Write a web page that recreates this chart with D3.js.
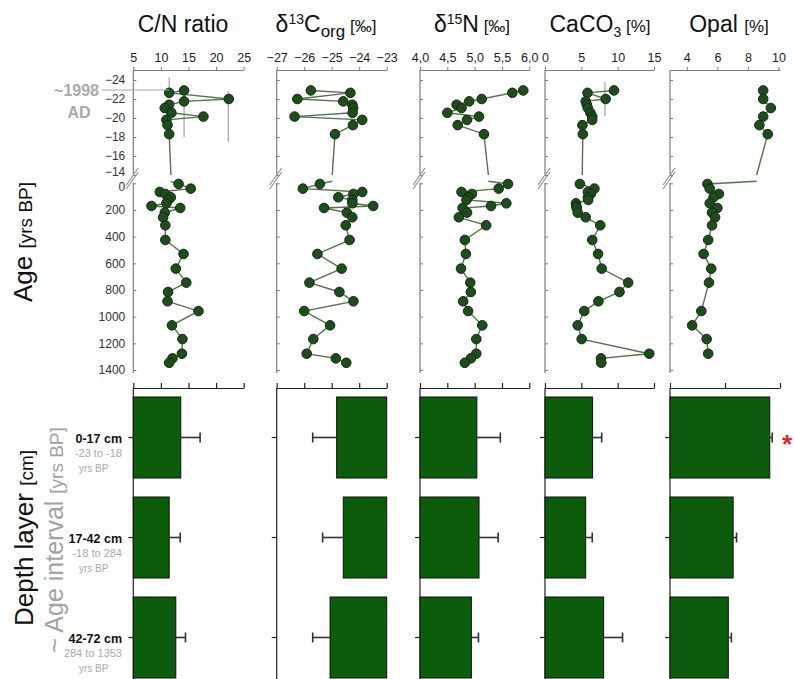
<!DOCTYPE html>
<html>
<head>
<meta charset="utf-8">
<script src="https://cdn.jsdelivr.net/npm/d3@7"></script>
<style>
  body { margin: 0; background: #fff; }
  svg { display: block; }
  text { font-family: "Liberation Sans", Arial, sans-serif; }
</style>
</head>
<body>
<svg id="chart" width="794" height="679"></svg>
<script>
// ---- Sample ages (yrs BP): upper (recent) segment and lower segment of the broken axis
const topAge = [-22.9, -22.65, -22.0, -21.75, -21.4, -21.05, -20.55, -20.15, -19.8, -19.25, -18.3];
const lowAge = [5, 40, 65, 80, 105, 125, 150, 170, 185, 220, 255, 315, 425, 530, 640, 745, 815, 885, 958, 1065, 1168, 1278, 1313, 1346];

// ---- Down-core profiles
const cnTop = [14.2, 11.5, 22.3, 14.2, 11.5, 10.7, 11.9, 17.7, 11.0, 11.2, 11.5];
const cnLow = [13.2, 15.4, 9.8, 10.8, 11.8, 11.3, 11.0, 8.3, 13.5, 10.7, 10.4, 10.8, 10.8, 14.1, 12.7, 14.6, 11.3, 11.2, 16.8, 12.0, 13.9, 13.8, 12.1, 11.5];

const d13Top = [-25.76, -24.32, -26.25, -24.58, -24.25, -24.22, -24.24, -26.35, -23.89, -24.23, -24.88];
const d13Low = [-25.43, -26.05, -23.89, -24.21, -24.76, -24.25, -24.25, -23.49, -25.28, -24.45, -24.25, -24.49, -24.35, -25.52, -24.64, -25.81, -24.72, -24.21, -26.0, -25.06, -25.67, -25.91, -24.85, -24.47];

const d15Top = [5.89, 5.69, 5.13, 4.90, 4.67, 4.76, 4.50, 5.08, 4.86, 4.69, 5.17];
const d15Low = [5.61, 5.44, 4.76, 4.95, 4.88, 4.85, 5.58, 5.30, 4.78, 4.86, 4.71, 5.21, 4.82, 4.84, 4.75, 4.92, 4.93, 4.79, 4.88, 5.14, 5.03, 5.03, 4.93, 4.82];

const caTop = [9.5, 5.85, 8.35, 5.6, 5.75, 5.9, 6.25, 6.5, 6.5, 5.15, 5.2];
const caLow = [4.8, 6.8, 5.9, 6.3, 5.9, 5.95, 4.26, 4.3, 4.36, 4.5, 5.6, 7.6, 6.5, 7.3, 7.8, 11.45, 10.25, 7.35, 5.4, 4.5, 5.05, 14.35, 7.7, 7.75];

const opalTop = [9.0, null, 9.0, null, null, 9.5, null, 9.0, null, 8.75, 9.3];
const opalLow = [5.35, 5.5, null, 6.1, 5.75, null, 5.5, null, 6.0, 5.65, 5.85, 5.65, 5.4, 5.1, 5.6, 5.45, null, null, 4.95, 4.35, 5.3, 5.4, null, null];

// ---- Reference lines in the recent segment (value, from age, to age)
const cnGuideVal = [11.5, 14.2, 22.2];
const cnGuideFrom = [-24.3, -22.95, -22.8];
const cnGuideTo = [-22.95, -18.0, -17.5];
const caGuideVal = [8.25];
const caGuideFrom = [-23.8];
const caGuideTo = [-20.2];

// ---- Layer means and standard deviations
const layers = ["0-17 cm", "17-42 cm", "42-72 cm"];
const layerAges = ["-23 to -18", "-18 to 284", "284 to 1353"];
const cnMean = [13.6, 11.5, 12.7];
const cnSD = [3.5, 2.0, 1.75];
const d13Mean = [-24.82, -24.58, -25.06];
const d13SD = [0.87, 0.75, 0.63];
const d15Mean = [5.04, 5.08, 4.94];
const d15SD = [0.43, 0.35, 0.13];
const caMean = [6.55, 5.6, 8.07];
const caSD = [1.25, 0.9, 2.6];
const opalMean = [9.07, 5.74, 5.3];
const opalSD = [0.22, 0.31, 0.28];

// ---- Axis ticks
const topAgeTicks = [-24, -22, -20, -18, -16, -14];
const lowAgeTicks = [0, 200, 400, 600, 800, 1000, 1200, 1400];

const svg = d3.select("#chart");

const yTop = d3.scaleLinear().domain([-25, -14]).range([70.5, 175]);
const yLow = d3.scaleLinear().domain([0, 1400]).range([183.3, 370]);
const yBar = d3.scaleBand().domain(layers).range([387.5, 687.5]).paddingInner(0.19).paddingOuter(0.095);

const comma = d => d3.format(".1f")(d).replace(".", ",");
const FONT = '"Liberation Sans", Arial, sans-serif';

const panels = [
  { x0: 133.3, x1: 243.7, dom: [5, 25], ticks: [5, 10, 15, 20, 25], fmt: d3.format("d"),
    top: cnTop, low: cnLow, mean: cnMean, sd: cnSD,
    barDom: [5, 25], barTicks: [5, 10, 15, 20, 25], base: 5, bx1: 243.7,
    gv: cnGuideVal, gf: cnGuideFrom, gt: cnGuideTo },
  { x0: 276.7, x1: 386.7, dom: [-27, -23], ticks: [-27, -26, -25, -24, -23], fmt: d3.format("d"),
    top: d13Top, low: d13Low, mean: d13Mean, sd: d13SD,
    barDom: [-27, -23], barTicks: [-27, -26, -25, -24, -23], base: -23, bx1: 386.7 },
  { x0: 420, x1: 529.3, dom: [4, 6], ticks: [4, 4.5, 5, 5.5, 6], fmt: comma,
    top: d15Top, low: d15Low, mean: d15Mean, sd: d15SD,
    barDom: [4, 6], barTicks: [4, 4.5, 5, 5.5, 6], base: 4, bx1: 529.3 },
  { x0: 545, x1: 654, dom: [0, 15], ticks: [0, 5, 10, 15], fmt: d3.format("d"),
    top: caTop, low: caLow, mean: caMean, sd: caSD,
    barDom: [0, 15], barTicks: [0, 5, 10, 15], base: 0, bx1: 654,
    gv: caGuideVal, gf: caGuideFrom, gt: caGuideTo },
  { x0: 670, x1: 780, dom: [2.9, 10.1], ticks: [4, 6, 8, 10], fmt: d3.format("d"),
    top: opalTop, low: opalLow, mean: opalMean, sd: opalSD,
    barDom: [0, 10], barTicks: [0, 5, 10], base: 0, bx1: 780 }
];

const axisGray = "#7d7d7d";
const lineCol = "#56734f";
const dotFill = "#1f4c1d";
const dotStroke = "#112d11";
const barFill = "#0b5c0b";

panels.forEach((p, pi) => {
  const x = d3.scaleLinear().domain(p.dom).range([p.x0, p.x1]);
  const g = svg.append("g");

  // top value axis
  const ax = g.append("g").attr("transform", "translate(0,70)")
    .call(d3.axisTop(x).tickValues(p.ticks).tickFormat(p.fmt).tickSize(3).tickSizeOuter(0).tickPadding(5));
  ax.select(".domain").attr("stroke", axisGray);
  ax.selectAll(".tick line").attr("stroke", axisGray);
  ax.selectAll("text").attr("font-size", 12.5).attr("fill", "#222").attr("font-family", FONT);

  // broken age axis
  const yAxTop = g.append("g").attr("transform", `translate(${p.x0},0)`)
    .call(d3.axisLeft(yTop).tickValues(topAgeTicks).tickSizeInner(-3).tickSizeOuter(0).tickPadding(8)
      .tickFormat(pi === 0 ? d3.format("d") : ""));
  const yAxLow = g.append("g").attr("transform", `translate(${p.x0},0)`)
    .call(d3.axisLeft(yLow).tickValues(lowAgeTicks).tickSizeInner(-3).tickSizeOuter(0).tickPadding(8)
      .tickFormat(pi === 0 ? d3.format("d") : ""));
  [yAxTop, yAxLow].forEach(a => {
    a.select(".domain").remove();
    a.selectAll(".tick line").attr("stroke", axisGray);
    a.selectAll("text").attr("font-size", 12).attr("fill", "#333").attr("font-family", FONT);
  });
  // the two labels at the break sit very close; nudge them apart a little
  yAxTop.selectAll("text").filter(d => d === -14).attr("dy", "0.05em");
  yAxLow.selectAll("text").filter(d => d === 0).attr("dy", "0.62em");

  g.append("line").attr("x1", p.x0).attr("x2", p.x0).attr("y1", 70).attr("y2", 174)
    .attr("stroke", axisGray).attr("stroke-width", 1.2);
  g.append("line").attr("x1", p.x0).attr("x2", p.x0).attr("y1", 183).attr("y2", 373)
    .attr("stroke", axisGray).attr("stroke-width", 1.2);
  // break marks
  [0, 4].forEach(o => {
    g.append("line")
      .attr("x1", p.x0 - 7).attr("y1", 185 + o).attr("x2", p.x0 + 5).attr("y2", 168 + o)
      .attr("stroke", "#8a8a8a").attr("stroke-width", 1.1);
  });

  // reference lines
  if (p.gv) {
    p.gv.forEach((v, i) => {
      g.append("line").attr("x1", x(v)).attr("x2", x(v))
        .attr("y1", yTop(p.gf[i])).attr("y2", yTop(p.gt[i]))
        .attr("stroke", "#9a9a9a").attr("stroke-width", 1.1);
    });
  }

  // profile: recent segment, lower segment, and the link across the break
  const tPts = topAge.map((a, i) => ({ a, v: p.top[i] })).filter(d => d.v != null);
  const lPts = lowAge.map((a, i) => ({ a, v: p.low[i] })).filter(d => d.v != null);
  const last = tPts[tPts.length - 1], first = lPts[0];
  const vb = last.v + (first.v - last.v) * ((-14 - last.a) / (first.a - last.a));

  const lineTop = d3.line().x(d => x(d.v)).y(d => yTop(d.a));
  const lineLow = d3.line().x(d => x(d.v)).y(d => yLow(d.a));
  g.append("path").attr("d", lineTop(tPts.concat([{ a: -14, v: vb }])))
    .attr("fill", "none").attr("stroke", lineCol).attr("stroke-width", 1.4);
  g.append("path").attr("d", lineLow([{ a: -15, v: vb }].concat(lPts)))
    .attr("fill", "none").attr("stroke", lineCol).attr("stroke-width", 1.4);

  g.selectAll(".dt").data(tPts).join("circle")
    .attr("cx", d => x(d.v)).attr("cy", d => yTop(d.a)).attr("r", 4.8)
    .attr("fill", dotFill).attr("stroke", dotStroke).attr("stroke-width", 1);
  g.selectAll(".dl").data(lPts).join("circle")
    .attr("cx", d => x(d.v)).attr("cy", d => yLow(d.a)).attr("r", 4.8)
    .attr("fill", dotFill).attr("stroke", dotStroke).attr("stroke-width", 1);

  // ---- layer bars
  const xb = d3.scaleLinear().domain(p.barDom).range([p.x0, p.bx1]);
  const bx = g.append("g").attr("transform", "translate(0,388)")
    .call(d3.axisTop(xb).tickValues(p.barTicks).tickFormat("").tickSize(5).tickSizeOuter(0));
  bx.select(".domain").attr("stroke", "#222").attr("stroke-width", 1.2);
  bx.selectAll(".tick line").attr("stroke", "#222").attr("stroke-width", 1.2);
  g.append("line").attr("x1", p.x0).attr("x2", p.x0).attr("y1", 388).attr("y2", 679)
    .attr("stroke", "#222").attr("stroke-width", 1.2);

  const bars = layers.map((l, i) => ({ l, m: p.mean[i], s: p.sd[i] }));
  g.selectAll(".bar").data(bars).join("rect")
    .attr("x", d => Math.min(xb(p.base), xb(d.m)))
    .attr("width", d => Math.abs(xb(d.m) - xb(p.base)))
    .attr("y", d => yBar(d.l)).attr("height", yBar.bandwidth())
    .attr("fill", barFill).attr("stroke", "#111").attr("stroke-width", 1);

  bars.forEach(d => {
    const cy = yBar(d.l) + yBar.bandwidth() / 2;
    const dir = d.m >= p.base ? 1 : -1;
    const xe = xb(d.m + dir * d.s);
    g.append("line").attr("x1", xb(d.m)).attr("x2", xe).attr("y1", cy).attr("y2", cy)
      .attr("stroke", "#333").attr("stroke-width", 1.6);
    g.append("line").attr("x1", xe).attr("x2", xe).attr("y1", cy - 5).attr("y2", cy + 5)
      .attr("stroke", "#333").attr("stroke-width", 1.6);
    g.append("line").attr("x1", p.x0 - 5).attr("x2", p.x0).attr("y1", cy).attr("y2", cy)
      .attr("stroke", "#222").attr("stroke-width", 1.2);
  });
});

// ---- column headings
function heading(cx, parts) {
  const t = svg.append("text").attr("x", cx).attr("y", 32).attr("text-anchor", "middle").attr("fill", "#111");
  parts.forEach(([s, fs, dy]) => t.append("tspan").attr("font-size", fs).attr("dy", dy || 0).text(s));
}
heading(183, [["C/N ratio", 23]]);
heading(326, [["δ", 23], ["13", 14, -8], ["C", 23, 8], ["org", 17, 5], [" [‰]", 17, -5]]);
heading(472, [["δ", 23], ["15", 14, -8], ["N", 23, 8], [" [‰]", 17]]);
heading(600, [["CaCO", 23], ["3", 14, 5], [" [%]", 17, -5]]);
heading(729, [["Opal ", 23], ["[%]", 17]]);

// ---- rotated axis titles
function vtitle(x, y, parts, fill) {
  const t = svg.append("text").attr("transform", `translate(${x},${y}) rotate(-90)`)
    .attr("text-anchor", "middle").attr("fill", fill);
  parts.forEach(([s, fs]) => t.append("tspan").attr("font-size", fs).text(s));
}
vtitle(32, 242, [["Age ", 26], ["[yrs BP]", 19]], "#111");
vtitle(33, 538, [["Depth layer ", 26], ["[cm]", 19]], "#111");
vtitle(63, 540, [["~ Age interval ", 25], ["[yrs BP]", 19]], "#a3a3a3");

// ---- layer labels
layers.forEach((l, i) => {
  const cy = yBar(l) + yBar.bandwidth() / 2;
  svg.append("text").attr("x", 122).attr("y", cy + 5).attr("text-anchor", "end")
    .attr("font-size", 12.5).attr("font-weight", "bold").attr("fill", "#111").text(l);
  svg.append("text").attr("x", 122).attr("y", cy + 19).attr("text-anchor", "end")
    .attr("font-size", 11).attr("fill", "#aaa").text(layerAges[i]);
  svg.append("text").attr("x", 79).attr("y", cy + 34).attr("text-anchor", "start")
    .attr("font-size", 10).attr("fill", "#aaa").text("yrs BP");
});

// ---- present-day marker
svg.append("line").attr("x1", 102).attr("x2", 169).attr("y1", yTop(-22.95)).attr("y2", yTop(-22.95))
  .attr("stroke", "#a5a5a5").attr("stroke-width", 1.1);
svg.append("text").attr("x", 76.5).attr("y", 96).attr("text-anchor", "middle")
  .attr("font-size", 16).attr("font-weight", "bold").attr("fill", "#aaa").text("~1998");
svg.append("text").attr("x", 79).attr("y", 118).attr("text-anchor", "middle")
  .attr("font-size", 16).attr("font-weight", "bold").attr("fill", "#aaa").text("AD");

// ---- significance mark
svg.append("text").attr("x", 787).attr("y", 453).attr("text-anchor", "middle")
  .attr("font-size", 26).attr("font-weight", "bold").attr("fill", "#e0252a").text("*");
</script>
</body>
</html>
